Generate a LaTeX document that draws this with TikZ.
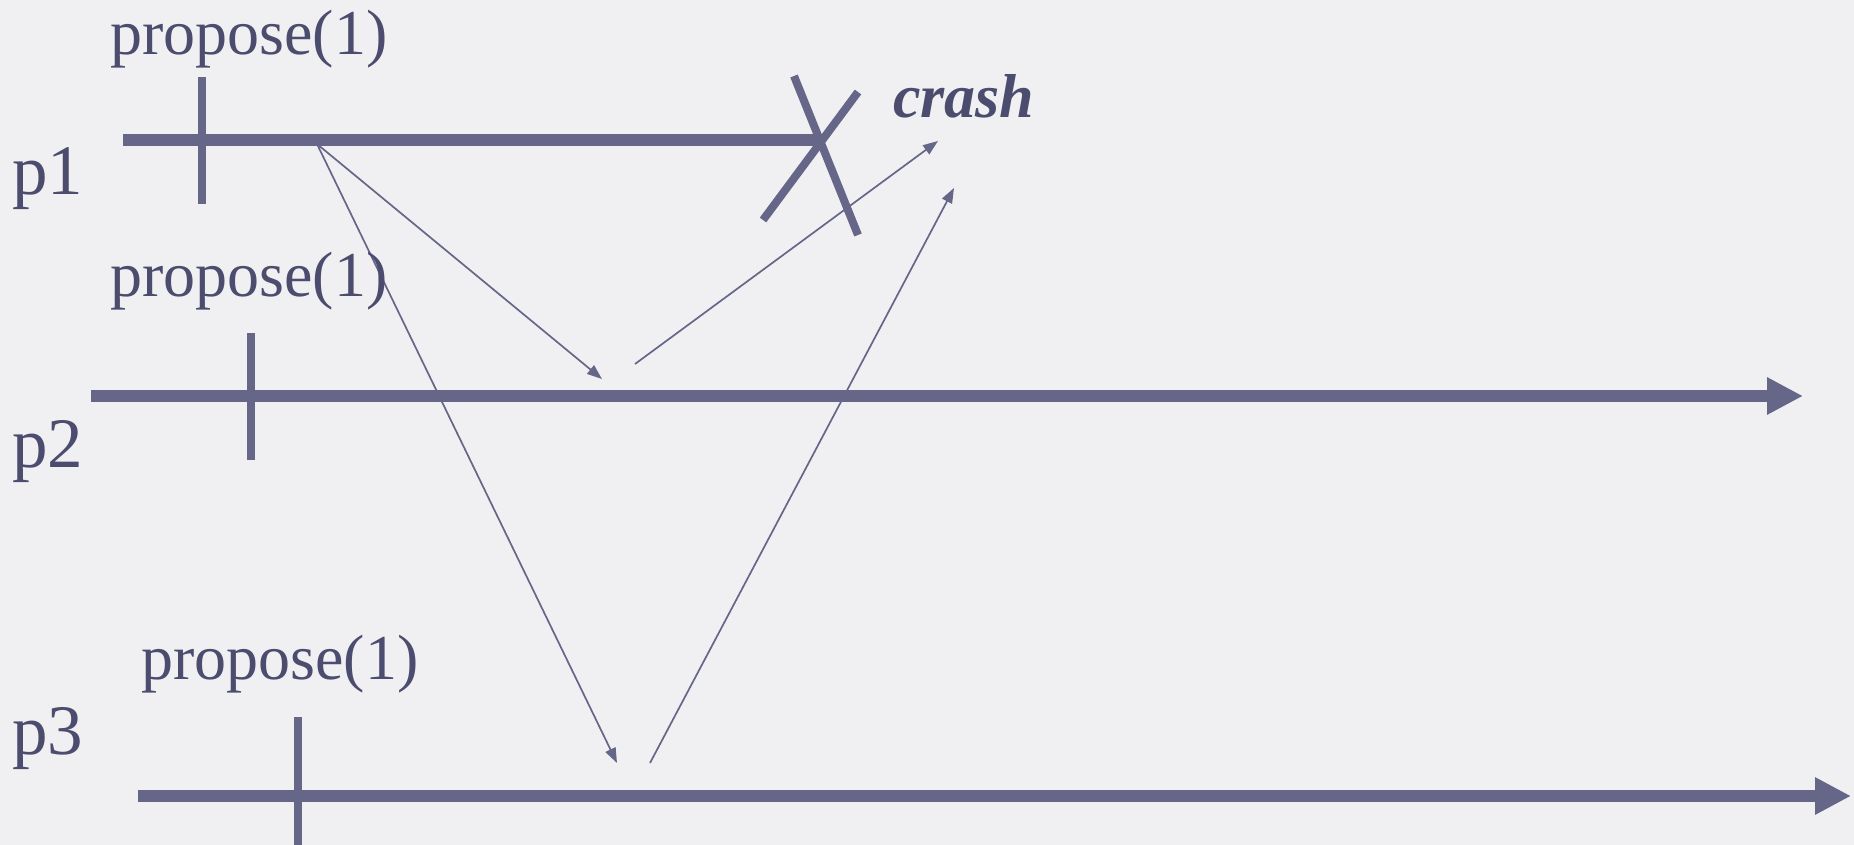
\documentclass[tikz,border=0pt]{standalone}
\usepackage{fontspec}
\setmainfont{Liberation Serif}
\usetikzlibrary{arrows.meta}
\definecolor{lineC}{RGB}{102,102,136}
\definecolor{textC}{RGB}{76,76,110}
\definecolor{bgC}{RGB}{240,240,243}
\begin{document}
\begin{tikzpicture}[x=1pt,y=-1pt,
  procline/.style={line width=12pt,color=lineC},
  procarrow/.style={procline,-{Triangle[length=36pt,width=35pt]}},
  tickmark/.style={line width=8.5pt,color=lineC},
  crossbar/.style={line width=8pt,color=lineC},
  msg/.style={line width=1.7pt,color=lineC,-{Triangle[length=15pt,width=11pt]}},
  proplabel/.style={anchor=base west,inner sep=0pt,text=textC,font=\fontsize{64}{72}\selectfont},
  plabel/.style={anchor=base west,inner sep=0pt,text=textC,font=\fontsize{71}{80}\selectfont},
  crashlabel/.style={anchor=base west,inner sep=0pt,text=textC,font=\fontsize{62}{70}\selectfont\bfseries\itshape}
]
\fill[bgC] (0,0) rectangle (1854,845);
\useasboundingbox (0,0) rectangle (1854,845);

% process lines
\coordinate (p1s) at (123,140);
\coordinate (p1e) at (820,140);
\coordinate (p2s) at (91,396);
\coordinate (p2e) at (1803,396);
\coordinate (p3s) at (138,796);
\coordinate (p3e) at (1851,796);
\draw[procline] (p1s) -- (p1e);
\draw[procarrow] (p2s) -- (p2e);
\draw[procarrow] (p3s) -- (p3e);

% ticks
\coordinate (t1a) at (202,77);  \coordinate (t1b) at (202,204);
\coordinate (t2a) at (251,333); \coordinate (t2b) at (251,460);
\coordinate (t3a) at (298,717); \coordinate (t3b) at (298,845);
\draw[tickmark] (t1a) -- (t1b);
\draw[tickmark] (t2a) -- (t2b);
\draw[tickmark] (t3a) -- (t3b);

% crash cross
\coordinate (xa1) at (794,76);  \coordinate (xa2) at (858,235);
\coordinate (xb1) at (858,92);  \coordinate (xb2) at (763,220);
\draw[crossbar] (xa1) -- (xa2);
\draw[crossbar] (xb1) -- (xb2);

% messages
\coordinate (m0) at (317,144);
\coordinate (m1) at (602,379);
\coordinate (m2) at (617,763);
\coordinate (m3s) at (650,763);
\coordinate (m3e) at (954,188);
\coordinate (m4s) at (635,364);
\coordinate (m4e) at (938,141);
\draw[msg] (m0) -- (m1);
\draw[msg] (m0) -- (m2);
\draw[msg] (m3s) -- (m3e);
\draw[msg] (m4s) -- (m4e);

% labels
\node[proplabel] (lp1) at (110,55) {propose(1)};
\node[proplabel] (lp2) at (110,296) {propose(1)};
\node[proplabel] (lp3) at (141,679) {propose(1)};
\node[plabel] (n1) at (12,195) {p1};
\node[plabel] (n2) at (12,467) {p2};
\node[plabel] (n3) at (12,754) {p3};
\node[crashlabel] (cr) at (893,118) {crash};
\end{tikzpicture}
\end{document}
